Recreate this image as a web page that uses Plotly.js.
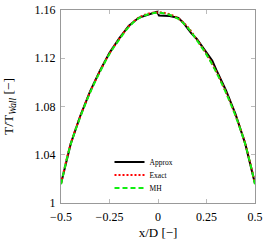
<!DOCTYPE html>
<html>
<head>
<meta charset="utf-8">
<script src="https://cdn.plot.ly/plotly-3.0.1.min.js"></script>
<style>html,body{margin:0;padding:0;background:#fff;}#chart{width:270px;height:250px;}</style>
</head>
<body>
<div id="chart"></div>
<script>
const xExact = [-0.5,-0.45,-0.4,-0.35,-0.3,-0.25,-0.2,-0.15,-0.1,-0.05,0,0.05,0.1,0.15,0.2,0.25,0.3,0.35,0.4,0.45,0.5];
const yExact = [1.016,1.049,1.072,1.092,1.109,1.124,1.136,1.1465,1.1535,1.157,1.158,1.157,1.1535,1.1465,1.1355,1.1235,1.109,1.092,1.0725,1.049,1.016];
const yMH    = [1.0155,1.0485,1.0715,1.0915,1.1085,1.1235,1.1355,1.146,1.153,1.1565,1.1578,1.1565,1.153,1.146,1.135,1.123,1.1085,1.0915,1.072,1.0485,1.0155];
const xApprox = [-0.5,-0.45,-0.4,-0.35,-0.3,-0.25,-0.2,-0.15,-0.1,-0.06,-0.03,-0.005,0.005,0.03,0.06,0.09,0.105,0.13,0.17,0.2,0.25,0.28,0.3,0.35,0.4,0.45,0.5];
const yApprox = [1.016,1.049,1.0725,1.0925,1.1095,1.1245,1.1365,1.147,1.1535,1.1555,1.1575,1.1585,1.1555,1.1555,1.155,1.154,1.1535,1.1495,1.141,1.136,1.1245,1.118,1.1105,1.0935,1.0735,1.049,1.016];
const xTicks = [-0.5,-0.25,0,0.25,0.5];
const xTickText = ['−0.5','−0.25','0','0.25','0.5'];
const yTicks = [1,1.04,1.08,1.12,1.16];
const yTickText = ['1','1.04','1.08','1.12','1.16'];

const serif = 'Liberation Serif, DejaVu Serif, serif';
const traces = [
  {x:xApprox, y:yApprox, name:'Approx', mode:'lines', line:{color:'#000', width:2}, legend:'legend'},
  {x:xExact, y:yExact, name:'Exact', mode:'lines', line:{color:'#ff0000', width:2, dash:'2px,2px', shape:'spline'}, legend:'legend2'},
  {x:xExact, y:yMH, name:'MH', mode:'lines', line:{color:'#11ee11', width:2, dash:'5px,3px', shape:'spline'}, legend:'legend3'}
];
const axisCommon = {
  showgrid:false, zeroline:false, showline:true, linecolor:'#999', linewidth:1,
  mirror:'ticks', ticks:'inside', ticklen:4, tickcolor:'#bbb', tickwidth:1,
  tickfont:{family:serif, size:12, color:'#000'}
};
const legendCommon = {xanchor:'left', yanchor:'middle', bgcolor:'rgba(255,255,255,0)',
  font:{family:serif, size:7.5, color:'#000'}, tracegroupgap:0, borderwidth:0};
const layout = {
  width:270, height:250,
  margin:{l:61, r:15, t:10, b:47},
  paper_bgcolor:'#fff', plot_bgcolor:'#fff',
  showlegend:true,
  legend:Object.assign({}, legendCommon, {x:0.25, y:0.212}),
  legend2:Object.assign({}, legendCommon, {x:0.25, y:0.145}),
  legend3:Object.assign({}, legendCommon, {x:0.25, y:0.078}),
  xaxis:Object.assign({}, axisCommon, {range:[-0.5,0.5], tickvals:xTicks, ticktext:xTickText, ticklabelstandoff:3,
    title:{text:'x/D [−]', font:{family:serif, size:13, color:'#000'}, standoff:4}}),
  yaxis:Object.assign({}, axisCommon, {range:[1,1.16], tickvals:yTicks, ticktext:yTickText, ticklabelstandoff:2,
    title:{text:'T/T<sub><i>Wall</i></sub> [−]', font:{family:serif, size:13.5, color:'#000'}, standoff:17}})
};
Plotly.newPlot('chart', traces, layout, {staticPlot:true, displayModeBar:false});
</script>
</body>
</html>
